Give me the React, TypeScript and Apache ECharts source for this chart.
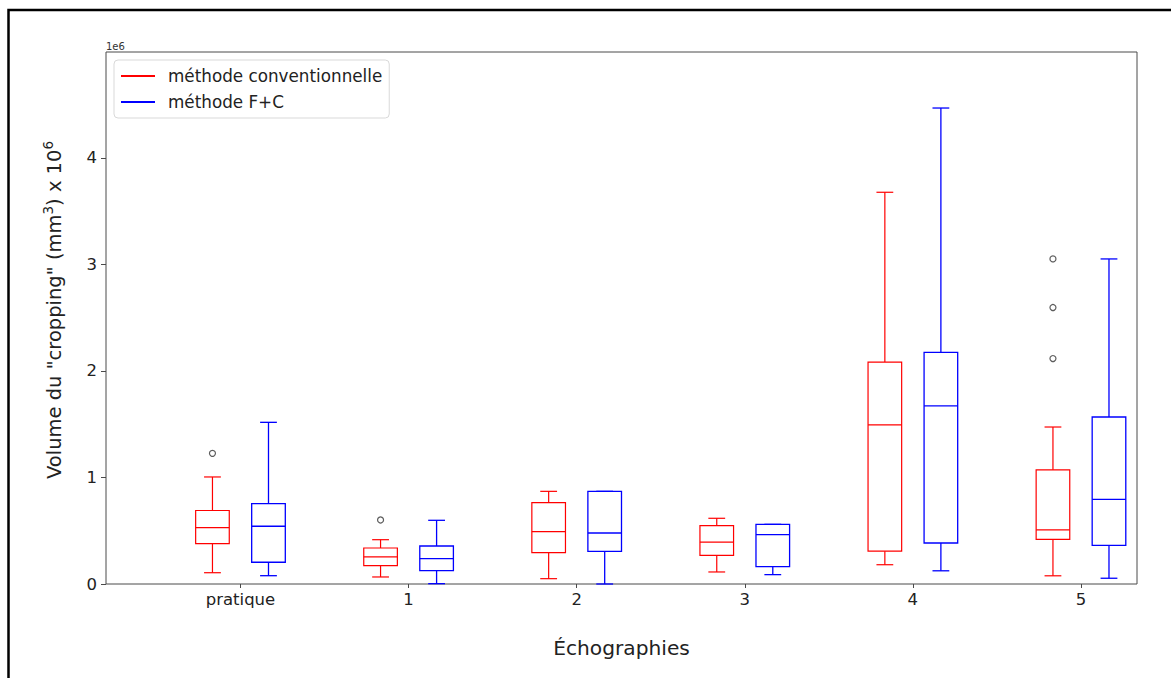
import React, { useEffect, useRef } from "react";
import * as echarts from "echarts";

// Volumes in units of 1e6 mm³
const categories = ["pratique", "1", "2", "3", "4", "5"];

// [lower whisker, Q1, median, Q3, upper whisker] per échographie
const conventionnelle = [
  [0.106, 0.38, 0.53, 0.69, 1.005],
  [0.066, 0.172, 0.254, 0.338, 0.416],
  [0.05, 0.294, 0.491, 0.764, 0.87],
  [0.113, 0.269, 0.394, 0.548, 0.617],
  [0.181, 0.308, 1.494, 2.084, 3.678],
  [0.077, 0.419, 0.509, 1.072, 1.474],
];

const fPlusC = [
  [0.078, 0.204, 0.542, 0.754, 1.518],
  [0.003, 0.125, 0.238, 0.357, 0.598],
  [0.0, 0.307, 0.479, 0.87, 0.87],
  [0.088, 0.163, 0.463, 0.56, 0.56],
  [0.124, 0.385, 1.672, 2.174, 4.469],
  [0.054, 0.362, 0.794, 1.568, 3.052],
];

// [category index, value]
const conventionnelleOutliers = [
  [0, 1.227],
  [1, 0.601],
  [5, 2.117],
  [5, 2.596],
  [5, 3.052],
];

const fPlusCOutliers: number[][] = [];

const yTicks = [0, 1, 2, 3, 4];

// layout: categories every 3 units, boxes at ±0.5, width 0.6
const STEP = 3;
const OFFSET = 0.5;
const BOX_W = 0.6;

const FONT = "DejaVu Sans";

function boxData(rows: number[][], offset: number) {
  return rows.map((r, i) => [i * STEP + offset, ...r]);
}

function outlierData(rows: number[][], offset: number) {
  return rows.map(([i, v]) => [i * STEP + offset, v]);
}

function makeRenderItem(color: string, lw: number) {
  return (params: any, api: any) => {
    const x = api.value(0);
    const pLow = api.coord([x, api.value(1)]);
    const pQ1 = api.coord([x, api.value(2)]);
    const pMed = api.coord([x, api.value(3)]);
    const pQ3 = api.coord([x, api.value(4)]);
    const pHigh = api.coord([x, api.value(5)]);
    const half = api.size([BOX_W, 0])[0] / 2;
    const cap = half / 2;
    const cx = pQ1[0];
    const style = { stroke: color, lineWidth: lw, fill: "none" };
    const line = (x1: number, y1: number, x2: number, y2: number) => ({
      type: "line",
      shape: { x1, y1, x2, y2 },
      style,
    });
    return {
      type: "group",
      children: [
        {
          type: "rect",
          shape: { x: cx - half, y: pQ3[1], width: half * 2, height: pQ1[1] - pQ3[1] },
          style,
        },
        line(cx - half, pMed[1], cx + half, pMed[1]),
        line(cx, pQ1[1], cx, pLow[1]),
        line(cx, pQ3[1], cx, pHigh[1]),
        line(cx - cap, pLow[1], cx + cap, pLow[1]),
        line(cx - cap, pHigh[1], cx + cap, pHigh[1]),
      ],
    };
  };
}

export default function App() {
  const ref = useRef<HTMLDivElement>(null);

  useEffect(() => {
    if (!ref.current) return;
    const chart = echarts.init(ref.current, null, { renderer: "svg" });
    const RED = "#ff0000";
    const BLUE = "#0000ff";

    chart.setOption({
      animation: false,
      backgroundColor: "#ffffff",
      grid: {
        left: 106,
        top: 52,
        right: 34,
        bottom: 94,
        show: true,
        borderColor: "#4a4a4a",
        borderWidth: 1,
        backgroundColor: "transparent",
      },
      legend: {
        orient: "vertical",
        left: 114,
        top: 60,
        data: ["méthode conventionnelle", "méthode F+C"],
        icon: "rect",
        itemWidth: 34,
        itemHeight: 2,
        itemGap: 6,
        padding: [6, 7, 6, 7],
        backgroundColor: "#ffffff",
        borderColor: "#d9d9d9",
        borderWidth: 1,
        borderRadius: 4,
        textStyle: {
          fontFamily: FONT,
          fontSize: 16.8,
          color: "#222",
          lineHeight: 20,
          padding: [0, 0, 0, 8],
        },
      },
      xAxis: {
        type: "value",
        min: -2.4,
        max: 16,
        splitLine: { show: false },
        axisLine: { show: false, onZero: false },
        axisTick: {
          show: true,
          length: 4,
          customValues: categories.map((_, i) => i * STEP),
          lineStyle: { color: "#4a4a4a" },
        },
        axisLabel: {
          customValues: categories.map((_, i) => i * STEP),
          formatter: (v: number) => categories[Math.round(v / STEP)] ?? "",
          fontFamily: FONT,
          fontSize: 16.5,
          color: "#222",
          margin: 7,
        },
        name: "Échographies",
        nameLocation: "middle",
        nameGap: 54,
        nameTextStyle: { fontFamily: FONT, fontSize: 20.2, color: "#222" },
      },
      yAxis: {
        type: "value",
        min: 0,
        max: 4.995,
        splitLine: { show: false },
        axisLine: { show: false, onZero: false },
        axisTick: {
          show: true,
          length: 5,
          customValues: yTicks,
          lineStyle: { color: "#4a4a4a" },
        },
        axisLabel: {
          customValues: yTicks,
          formatter: (v: number) => String(v),
          fontFamily: FONT,
          fontSize: 16.5,
          color: "#222",
          margin: 9,
        },
      },
      graphic: [
        {
          type: "rect",
          shape: { x: 8.5, y: 10, width: 1300, height: 800 },
          style: { fill: "none", stroke: "#000", lineWidth: 2.5 },
          silent: true,
        },
        {
          type: "text",
          x: 106,
          y: 46,
          style: {
            text: "1e6",
            fontFamily: FONT,
            fontSize: 10,
            fill: "#333",
            textAlign: "left",
            textVerticalAlign: "middle",
          },
        },
        {
          type: "text",
          x: 54,
          y: 310,
          rotation: Math.PI / 2,
          style: {
            text: 'Volume du "cropping" (mm{sup|3}) x 10{sup|6}',
            fontFamily: FONT,
            fontSize: 19.5,
            fill: "#222",
            lineHeight: 27,
            verticalAlign: "bottom",
            textAlign: "center",
            textVerticalAlign: "middle",
            rich: {
              sup: {
                fontFamily: FONT,
                fontSize: 13.5,
                fill: "#222",
                lineHeight: 14,
                verticalAlign: "top",
              },
            },
          },
        },
      ],
      series: [
        {
          name: "méthode conventionnelle",
          type: "custom",
          itemStyle: { color: RED },
          encode: { x: 0, y: [1, 2, 3, 4, 5] },
          renderItem: makeRenderItem(RED, 1.2),
          data: boxData(conventionnelle, -OFFSET),
          z: 3,
        },
        {
          name: "méthode F+C",
          type: "custom",
          itemStyle: { color: BLUE },
          encode: { x: 0, y: [1, 2, 3, 4, 5] },
          renderItem: makeRenderItem(BLUE, 1.3),
          data: boxData(fPlusC, OFFSET),
          z: 3,
        },
        {
          name: "outliers conventionnelle",
          type: "scatter",
          symbol: "circle",
          symbolSize: 6,
          itemStyle: { color: "none", borderColor: "#333", borderWidth: 1.2 },
          data: outlierData(conventionnelleOutliers, -OFFSET),
          z: 4,
        },
        {
          name: "outliers F+C",
          type: "scatter",
          symbol: "circle",
          symbolSize: 6,
          itemStyle: { color: "none", borderColor: "#333", borderWidth: 1.2 },
          data: outlierData(fPlusCOutliers, OFFSET),
          z: 4,
        },
      ],
    });

    return () => chart.dispose();
  }, []);

  return (
    <div
      ref={ref}
      style={{ position: "fixed", left: 0, top: 0, width: 1171, height: 678, background: "#fff" }}
    />
  );
}
